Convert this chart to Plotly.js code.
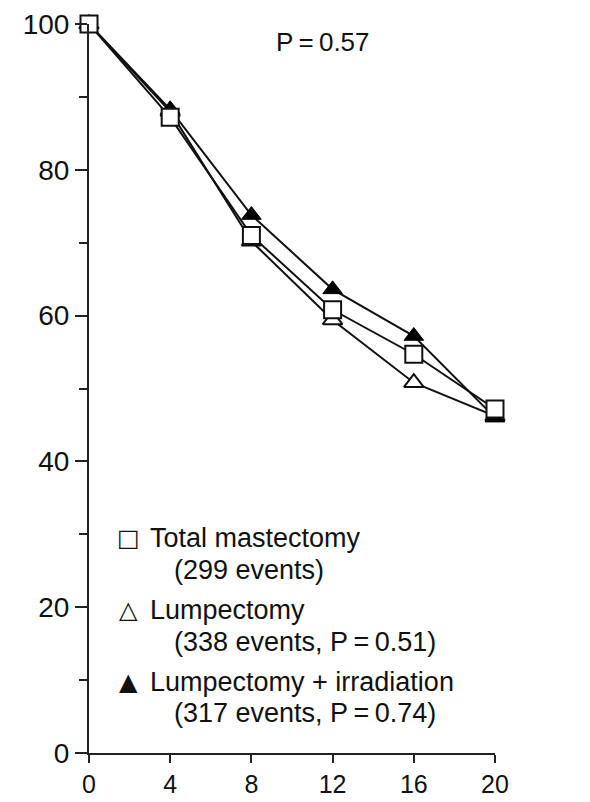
<!DOCTYPE html>
<html>
<head>
<meta charset="utf-8">
<script src="https://cdn.plot.ly/plotly-3.0.1.min.js"></script>
<style>html,body{margin:0;padding:0;background:#fff;} #chart{width:590px;height:802px;}</style>
</head>
<body>
<div id="chart"></div>
<script>
const years = [0, 4, 8, 12, 16, 20];
const totalMastectomy = [100, 87.2, 71.0, 60.8, 54.7, 47.2];
const lumpectomy = [100, 88.0, 70.2, 59.4, 50.8, 46.2];
const lumpIrradiation = [100, 88.3, 73.8, 63.6, 57.2, 46.0];
const xTicks = [0, 4, 8, 12, 16, 20];
const yTicks = [0, 20, 40, 60, 80, 100];

const FONT = 'Liberation Sans, Arial, sans-serif';
const base = {x: years, mode: 'lines+markers', line: {color: '#111', width: 2}, cliponaxis: false, showlegend: false};

const traces = [
  Object.assign({}, base, {y: lumpectomy, name: 'Lumpectomy',
    marker: {symbol: 'triangle-up', size: 17, color: '#fff', line: {color: '#111', width: 2}}}),
  Object.assign({}, base, {y: lumpIrradiation, name: 'Lumpectomy + irradiation',
    marker: {symbol: 'triangle-up', size: 17, color: '#000', line: {color: '#000', width: 1}}}),
  Object.assign({}, base, {y: totalMastectomy, name: 'Total mastectomy',
    marker: {symbol: 'square', size: 17, color: '#fff', line: {color: '#111', width: 2}}})
];

const PB = 753;
const px = v => (v - 89) / 406;
const py = v => (PB - v) / (PB - 24);
const tf = {family: FONT, size: 27, color: '#111'};
const sf = {family: 'DejaVu Sans', size: 24, color: '#111', weight: 'bold'};
const ann = (x, y, text, font, xanchor) => ({xref: 'paper', yref: 'paper', x: px(x), y: py(y), text, showarrow: false, font, xanchor: xanchor || 'left', yanchor: 'middle'});

const layout = {
  width: 590, height: 802,
  margin: {l: 89, r: 95, t: 24, b: 802 - PB},
  paper_bgcolor: '#fff', plot_bgcolor: '#fff',
  xaxis: {range: [0, 20], tickvals: xTicks, ticks: 'outside', ticklen: 8, tickwidth: 2, tickcolor: '#222',
    showline: true, linecolor: '#222', linewidth: 2, showgrid: false, zeroline: false,
    tickfont: {family: FONT, size: 25, color: '#111'}},
  yaxis: {range: [0, 100], tickvals: yTicks, ticks: 'outside', ticklen: 12, tickwidth: 2, tickcolor: '#222',
    minor: {dtick: 10, tick0: 0, ticks: 'outside', ticklen: 8, tickwidth: 2, tickcolor: '#222'},
    showline: true, linecolor: '#222', linewidth: 2, showgrid: false, zeroline: false,
    tickfont: {family: FONT, size: 28, color: '#111'}},
  annotations: [
    ann(323, 42, 'P\u2009=\u20090.57', Object.assign({}, tf, {size: 26}), 'center'),
    ann(128, 538, '\u25A1', sf, 'center'),
    ann(148, 538, 'Total mastectomy', tf),
    ann(172, 570, '(299 events)', tf),
    ann(128, 610, '\u25B3', sf, 'center'),
    ann(148, 610, 'Lumpectomy', tf),
    ann(172, 642, '(338 events, P\u2009=\u20090.51)', tf),
    ann(128, 682, '\u25B2', sf, 'center'),
    ann(148, 682, 'Lumpectomy + irradiation', tf),
    ann(172, 713, '(317 events, P\u2009=\u20090.74)', tf)
  ]
};

Plotly.newPlot('chart', traces, layout, {displayModeBar: false, staticPlot: true});
</script>
</body>
</html>
